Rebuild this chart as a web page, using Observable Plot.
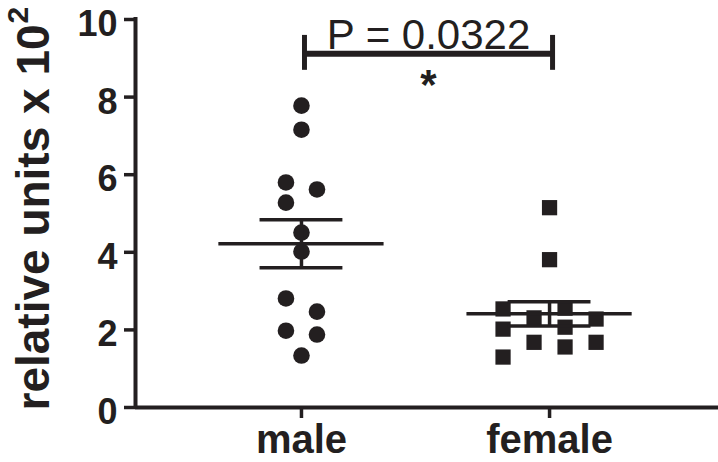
<!DOCTYPE html>
<html>
<head>
<meta charset="utf-8">
<script src="https://cdn.jsdelivr.net/npm/d3@7"></script>
<script src="https://cdn.jsdelivr.net/npm/@observablehq/plot@0.6"></script>
<style>
  html, body { margin: 0; padding: 0; background: #ffffff; }
  #chart svg { display: block; overflow: visible; }
</style>
</head>
<body>
<div id="chart"></div>
<script>
// ---------- data ----------
const groups = ["male", "female"];
const maleValues = [7.78, 7.16, 5.80, 5.62, 5.28, 4.51, 4.02, 2.81, 2.47, 1.98, 1.88, 1.34];
const femaleValues = [5.15, 3.81, 2.54, 2.56, 2.31, 2.28, 2.02, 2.07, 1.68, 1.68, 1.30, 1.56];
const yTicks = [0, 2, 4, 6, 8, 10];
const yLabel = "relative units x 10";
const yLabelExponent = "2";
const pValueText = "P = 0.0322";
const significanceMark = "*";
const bracketLevel = [9.12];          // y of the comparison bracket
const bracketDrop = [8.69, 9.59];     // extent of its end caps
const pTextLevel = [9.24];
const starLevel = [8.71];

// ---------- layout helpers ----------
const ink = "#231f20";
const overlap = 0.42;       // about one symbol height, in data units
const slotWidth = 0.125;    // horizontal spacing of scatter columns, in x units

// GraphPad-like column scatter: points that overlap vertically are spread into columns
function columnOffsets(values) {
  const sorted = values.map((v, i) => ({v, i})).sort((a, b) => b.v - a.v);
  const clusters = [];
  let cur = null, prev = null;
  for (const p of sorted) {
    if (!cur || prev - p.v >= overlap) { cur = []; clusters.push(cur); }
    cur.push(p.i); prev = p.v;
  }
  const offsets = new Array(values.length).fill(0);
  for (const c of clusters) {
    const vs = c.map(i => values[i]);
    let k = 1;
    for (const a of vs) k = Math.max(k, vs.filter(b => b <= a && a - b < overlap).length);
    const order = d3.range(0, k, 2).concat(d3.range(1, k, 2));
    const placed = d3.range(k).map(() => []);
    for (const i of c.slice().sort((a, b) => a - b)) {
      const v = values[i];
      let slot = order.find(s => placed[s].every(w => Math.abs(w - v) >= overlap));
      if (slot === undefined) slot = order[0];
      placed[slot].push(v);
      offsets[i] = slot - (k - 1) / 2;
    }
  }
  return offsets;
}

function rows(values, g) {
  const off = columnOffsets(values);
  return values.map((v, i) => ({g, x: g + off[i] * slotWidth, y: v}));
}
const maleRows = rows(maleValues, 0);
const femaleRows = rows(femaleValues, 1);

const stats = [maleValues, femaleValues].map((vals, g) => {
  const mean = d3.mean(vals);
  const sem = d3.deviation(vals) / Math.sqrt(vals.length);
  return {g, mean, lo: mean - sem, hi: mean + sem};
});
const caps = stats.flatMap(s => [{g: s.g, y: s.lo}, {g: s.g, y: s.hi}]);

const xDomain = [-0.669, 1.681];

const chart = Plot.plot({
  width: 718,
  height: 462,
  marginLeft: 135,
  marginRight: 0,
  marginTop: 19,
  marginBottom: 55,
  style: {fontFamily: "'Liberation Sans', Arial, Helvetica, sans-serif", color: ink, background: "#ffffff"},
  x: {type: "linear", domain: xDomain},
  y: {domain: [0, 10]},
  marks: [
    // axes
    Plot.ruleY([0], {stroke: ink, strokeWidth: 4}),
    Plot.ruleX([xDomain[0]], {y1: 0, y2: 10, stroke: ink, strokeWidth: 4, strokeLinecap: "square"}),
    Plot.axisY({ticks: yTicks, tickSize: 11, tickFormat: () => "", label: null, stroke: ink, strokeWidth: 3.5}),
    Plot.axisY({ticks: yTicks, tickSize: 0, tickPadding: 18, label: null, fontSize: 36, fontWeight: "bold", dy: 5}),
    Plot.axisX({ticks: [0, 1], tickSize: 11, tickFormat: () => "", label: null, stroke: ink, strokeWidth: 3.5}),
    Plot.axisX({ticks: [0, 1], tickSize: 0, tickPadding: 17, tickFormat: i => groups[i], label: null, fontSize: 40, fontWeight: "bold"}),
    // y title
    Plot.text([yLabel], {frameAnchor: "bottom-left", text: d => d, rotate: -90, textAnchor: "start", lineAnchor: "bottom",
      fontSize: 46, fontWeight: "bold", fill: ink, dx: -87, dy: 3}),
    Plot.text([yLabelExponent], {frameAnchor: "bottom-left", text: d => d, rotate: -90, textAnchor: "start", lineAnchor: "bottom",
      fontSize: 30, fontWeight: "bold", fill: ink, dx: -108, dy: -384}),
    // points
    Plot.dot(maleRows, {x: "x", y: "y", r: 8.3, symbol: "circle", fill: ink, stroke: "none"}),
    Plot.dot(femaleRows, {x: "x", y: "y", r: 8.6, symbol: "square", fill: ink, stroke: "none"}),
    // mean and SEM
    Plot.ruleY(stats, {y: "mean", x1: d => d.g - 0.333, x2: d => d.g + 0.333, stroke: ink, strokeWidth: 3.5}),
    Plot.ruleY(caps, {y: "y", x1: d => d.g - 0.167, x2: d => d.g + 0.167, stroke: ink, strokeWidth: 3.5}),
    Plot.ruleX(stats, {x: "g", y1: "lo", y2: "hi", stroke: ink, strokeWidth: 3.5}),
    // significance bracket
    Plot.ruleY(bracketLevel, {x1: 0, x2: 1, stroke: ink, strokeWidth: 6, dx: 3}),
    Plot.ruleX([0, 1], {y1: bracketDrop[0], y2: bracketDrop[1], stroke: ink, strokeWidth: 5, dx: 3}),
    Plot.text([pValueText], {x: 0.5, y: pTextLevel[0], text: d => d, fontSize: 42, lineAnchor: "bottom", fill: ink, dx: 3}),
    Plot.text([significanceMark], {x: 0.5, y: starLevel[0], text: d => d, fontSize: 42, fontWeight: "bold", lineAnchor: "top", fill: ink, dx: 3})
  ]
});
document.getElementById("chart").appendChild(chart);
</script>
</body>
</html>
